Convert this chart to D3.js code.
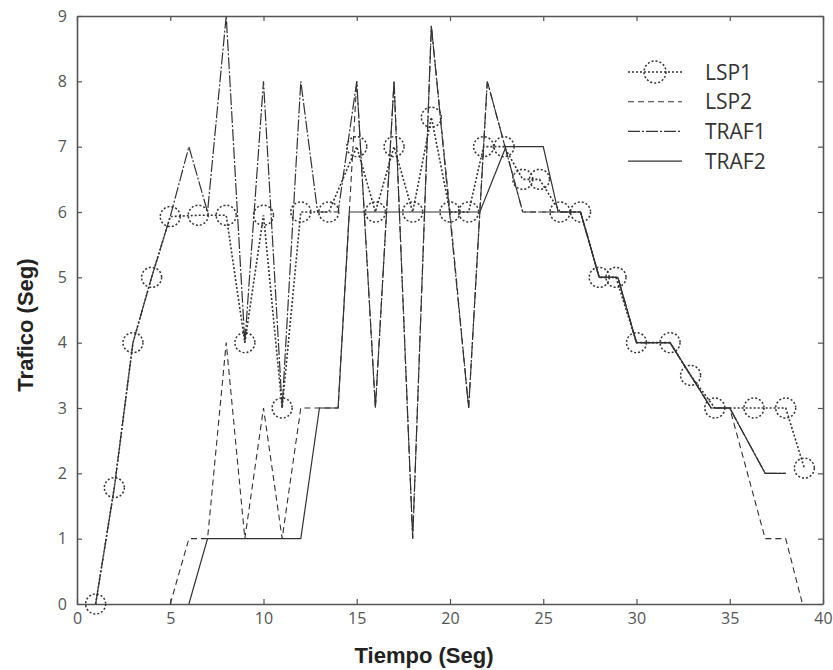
<!DOCTYPE html>
<html>
<head>
<meta charset="utf-8">
<script src="https://cdn.jsdelivr.net/npm/d3@7"></script>
<style>
    body { margin: 0; background: #fff; }
</style>
</head>
<body>
<svg id="SVGtraffic" width="833" height="670"></svg>
<script>
"use strict";

/** legend order */
const seriesNames = ["LSP1", "LSP2", "TRAF1", "TRAF2"];
/** axis ticks */
const xTicks = [0, 5, 10, 15, 20, 25, 30, 35, 40];
const yTicks = [0, 1, 2, 3, 4, 5, 6, 7, 8, 9];

// LSP1 (dotted, circle markers)
const lsp1Time  = [1, 2, 3, 4, 5, 6.5, 8, 9, 10, 11, 12, 13.5, 15, 16, 17, 18, 19, 20, 21, 21.8, 22.9, 23.9, 24.8, 25.9, 27, 28, 28.9, 30, 31.8, 32.9, 34.2, 36.3, 38, 39];
const lsp1Value = [0, 1.78, 4, 5, 5.93, 5.95, 5.95, 4, 5.95, 3, 6, 6, 7, 6, 7, 6, 7.45, 6, 6, 7, 7, 6.5, 6.5, 6, 6, 5, 5, 4, 4, 3.5, 3, 3, 3, 2.08];
// LSP2 (dashed)
const lsp2Time  = [5, 6, 7, 8, 9, 10, 11, 12, 13, 14, 15, 16, 17, 18, 19, 20, 21, 22, 23.9, 25.7, 27, 28, 29, 30, 31.8, 34, 35, 36.9, 38, 38.9];
const lsp2Value = [0, 1, 1, 4, 1, 3, 1, 3, 3, 3, 8, 3, 8, 1, 8.85, 6, 3, 8, 6, 6, 6, 5, 5, 4, 4, 3, 3, 1, 1, 0];
// TRAF1 (dash-dot)
const traf1Time  = [1, 2, 3, 4, 5, 6, 7, 8, 9, 10, 11, 12, 12.9, 14, 15, 16, 17, 18, 19, 21, 22, 23.9, 25.7, 27, 28, 29, 30, 31.8, 34, 35, 36.9, 38];
const traf1Value = [0, 1.78, 4, 5, 5.93, 7, 6, 9, 4, 8, 3, 8, 6, 6, 8, 3, 8, 1, 8.85, 3, 8, 6, 6, 6, 5, 5, 4, 4, 3, 3, 2, 2];
// TRAF2 (solid)
const traf2Time  = [6, 7, 12, 13, 14, 14.6, 21.6, 23, 25, 25.8, 27, 28, 29, 30, 31.8, 34, 35, 36.9, 38];
const traf2Value = [0, 1, 1, 3, 3, 6, 6, 7, 7, 6, 6, 5, 5, 4, 4, 3, 3, 2, 2];

/**
 * line chart wrapper
 */
const trafficChart = {
    SVG: d3.select("#SVGtraffic"),
    width: parseInt(d3.select("#SVGtraffic").attr("width")),
    height: parseInt(d3.select("#SVGtraffic").attr("height")),
    padding: {
        top: 16, right: 10, bottom: 66, left: 77
    },
    /** stroke style of every series */
    styles: {
        LSP1: { dash: "2,2", width: 1.6 },
        LSP2: { dash: "6,4", width: 1.1 },
        TRAF1: { dash: "12,2,2,2", width: 1.2 },
        TRAF2: { dash: null, width: 1.2 }
    },
    ink: "#333",
    render: () => {
        const c = trafficChart;
        const x = d3.scaleLinear().domain([0, 40])
            .range([c.padding.left, c.width - c.padding.right]);
        const y = d3.scaleLinear().domain([0, 9])
            .range([c.height - c.padding.bottom, c.padding.top]);

        const series = [
            { name: "TRAF2", time: traf2Time, value: traf2Value },
            { name: "TRAF1", time: traf1Time, value: traf1Value },
            { name: "LSP2", time: lsp2Time, value: lsp2Value },
            { name: "LSP1", time: lsp1Time, value: lsp1Value }
        ];

        // axes: ticks point inside the frame
        const bottom = c.SVG.append("g")
            .attr("transform", "translate(0," + y(0) + ")")
            .call(d3.axisBottom(x).tickValues(xTicks).tickSizeInner(-5).tickSizeOuter(0).tickPadding(9));
        const left = c.SVG.append("g")
            .attr("transform", "translate(" + x(0) + ",0)")
            .call(d3.axisLeft(y).tickValues(yTicks).tickSizeInner(-5).tickSizeOuter(0).tickPadding(10));
        const top = c.SVG.append("g")
            .attr("transform", "translate(0," + y(9) + ")")
            .call(d3.axisTop(x).tickValues(xTicks).tickSizeInner(-5).tickSizeOuter(0).tickFormat(""));
        const right = c.SVG.append("g")
            .attr("transform", "translate(" + x(40) + ",0)")
            .call(d3.axisRight(y).tickValues(yTicks).tickSizeInner(-5).tickSizeOuter(0).tickFormat(""));
        [bottom, left, top, right].forEach(g => {
            g.select(".domain").attr("stroke", "#555").attr("stroke-width", 1.6);
            g.selectAll(".tick line").attr("stroke", "#555").attr("stroke-width", 1.2);
            g.selectAll(".tick text")
                .attr("fill", "#555")
                .style("font-family", "'Open Sans', sans-serif")
                .style("font-size", "16px");
        });

        // lines
        const line = d3.line().x(d => x(d[0])).y(d => y(d[1]));
        c.SVG.selectAll(".series").data(series)
            .enter()
            .append("path")
            .attr("class", "series")
            .attr("d", d => line(d.time.map((t, i) => [t, d.value[i]])))
            .attr("fill", "none")
            .attr("stroke", c.ink)
            .attr("stroke-width", d => c.styles[d.name].width)
            .attr("stroke-dasharray", d => c.styles[d.name].dash);

        // LSP1 circle markers
        c.SVG.selectAll(".marker").data(lsp1Time.map((t, i) => [t, lsp1Value[i]]))
            .enter()
            .append("circle")
            .attr("class", "marker")
            .attr("cx", d => x(d[0]))
            .attr("cy", d => y(d[1]))
            .attr("r", 10)
            .attr("fill", "none")
            .attr("stroke", c.ink)
            .attr("stroke-width", 1.5)
            .attr("stroke-dasharray", "2,2");

        // legend
        const legend = c.SVG.selectAll(".legend").data(seriesNames)
            .enter()
            .append("g")
            .attr("class", "legend")
            .attr("transform", (d, i) => "translate(628," + (72 + i * 29.7) + ")");
        legend.append("line")
            .attr("x1", 0).attr("x2", 54)
            .attr("stroke", c.ink)
            .attr("stroke-width", d => c.styles[d].width)
            .attr("stroke-dasharray", d => c.styles[d].dash);
        legend.filter(d => d === "LSP1")
            .append("circle")
            .attr("cx", 27).attr("r", 11)
            .attr("fill", "none")
            .attr("stroke", c.ink)
            .attr("stroke-width", 1.5)
            .attr("stroke-dasharray", "2,2");
        legend.append("text")
            .attr("x", 77)
            .attr("dy", "0.36em")
            .attr("fill", c.ink)
            .style("font-family", "'Open Sans', sans-serif")
            .style("font-size", "21px")
            .text(d => d);

        // axis titles
        c.SVG.append("text")
            .attr("x", 424)
            .attr("y", 663)
            .attr("text-anchor", "middle")
            .attr("fill", "#222")
            .style("font-family", "'Liberation Sans', Arial, sans-serif")
            .style("font-weight", "bold")
            .style("font-size", "22px")
            .text("Tiempo (Seg)");
        c.SVG.append("text")
            .attr("transform", "translate(33,325) rotate(-90)")
            .attr("text-anchor", "middle")
            .attr("fill", "#222")
            .style("font-family", "'Liberation Sans', Arial, sans-serif")
            .style("font-weight", "bold")
            .style("font-size", "22px")
            .text("Trafico (Seg)");
    }
};

trafficChart.render();
</script>
</body>
</html>
